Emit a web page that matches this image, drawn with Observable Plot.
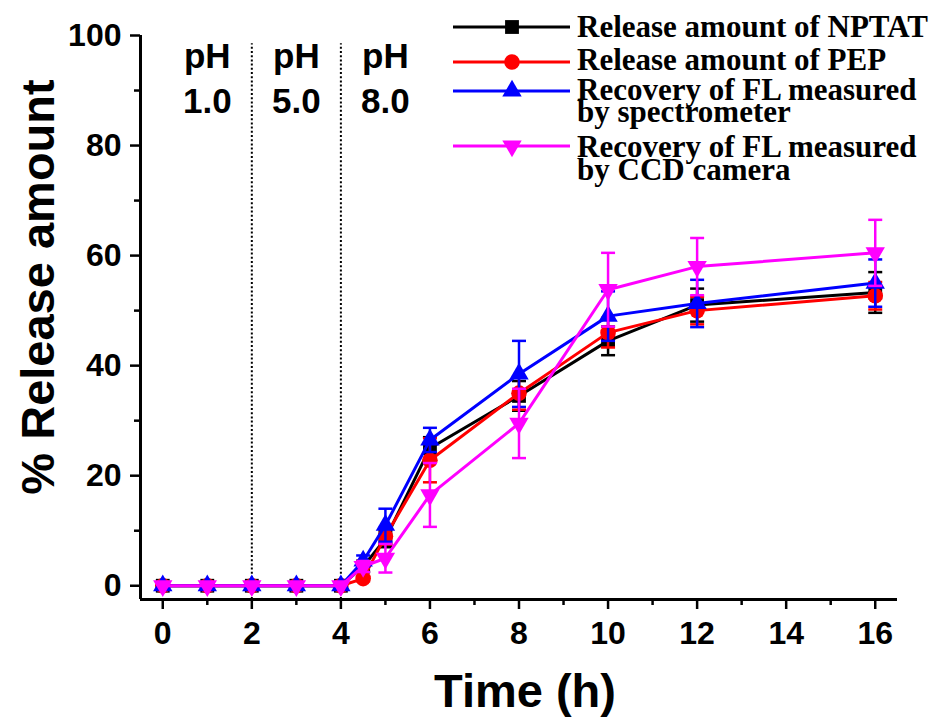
<!DOCTYPE html>
<html>
<head>
<meta charset="utf-8">
<script src="https://cdn.jsdelivr.net/npm/d3@7"></script>
<script src="https://cdn.jsdelivr.net/npm/@observablehq/plot@0.6"></script>
<style>
  html, body { margin: 0; padding: 0; background: white; }
  #chart { position: relative; width: 937px; height: 718px; }
  #chart svg { display: block; }
  #legend { position: absolute; left: 0; top: 0; pointer-events: none; }
</style>
</head>
<body>
<div id="chart"></div>
<script>
// ---------- data ----------
const times = [0, 1, 2, 3, 4, 4.5, 5, 6, 8, 10, 12, 16];
const nptat     = [0, 0, 0, 0, 0, 3.5, 8.5, 25.0, 34.5, 44.5, 51.0, 53.3];
const nptatErr  = [0, 0, 0, 0, 0, 1.0, 1.5, 2.0, 2.7, 2.6, 3.0, 3.7];
const pep       = [0, 0, 0, 0, 0, 1.3, 9.0, 22.8, 35.0, 46.0, 50.0, 52.7];
const pepErr    = [0, 0, 0, 0, 0, 0.5, 1.5, 4.0, 3.0, 2.7, 2.5, 2.5];
const flSpec    = [0, 0, 0, 0, 0, 4.5, 11.0, 26.5, 38.5, 49.0, 51.3, 55.0];
const flSpecErr = [0, 0, 0, 0, 0, 1.0, 3.0, 2.2, 6.0, 4.5, 4.3, 4.3];
const flCcd     = [0, 0, 0, 0, 0, 3.5, 5.0, 16.5, 29.5, 53.8, 58.0, 60.5];
const flCcdErr  = [0, 0, 0, 0, 0, 1.0, 2.6, 5.8, 6.3, 6.7, 5.2, 6.0];

const seriesNames = [
  "Release amount of NPTAT",
  "Release amount of PEP",
  "Recovery of FL measured\nby spectrometer",
  "Recovery of FL measured\nby CCD camera"
];
const phaseBounds = [2, 4];
const phaseCenters = [1, 3, 5];
const phaseLabels = ["pH\n1.0", "pH\n5.0", "pH\n8.0"];
const xTicks = [0, 2, 4, 6, 8, 10, 12, 14, 16];
const xMinorTicks = [1, 3, 5, 7, 9, 11, 13, 15];
const yTicks = [0, 20, 40, 60, 80, 100];
const yMinorTicks = [10, 30, 50, 70, 90];
const xDomain = [-0.5, 16.5];
const yDomain = [-2.5, 100];
const boundaryTop = 98.5;
const xLabel = "Time (h)";
const yLabel = "% Release amount";

// ---------- styles ----------
const triangleDown = {
  draw(ctx, size) {
    const y = -Math.sqrt(size / (Math.sqrt(3) * 3));
    ctx.moveTo(0, -y * 2);
    ctx.lineTo(-Math.sqrt(3) * y, y);
    ctx.lineTo(Math.sqrt(3) * y, y);
    ctx.closePath();
  }
};
const capSymbol = {
  draw(ctx, size) {
    const r = Math.sqrt(size / Math.PI);
    ctx.moveTo(-r, 0);
    ctx.lineTo(r, 0);
  }
};
const styles = [
  {color: "#000000", symbol: "square", r: 7.8},
  {color: "#ff0000", symbol: "circle", r: 7.8},
  {color: "#0000ff", symbol: "triangle", r: 7.2},
  {color: "#ff00ff", symbol: triangleDown, r: 7.2}
];
const valueSets = [nptat, pep, flSpec, flCcd];
const errorSets = [nptatErr, pepErr, flSpecErr, flCcdErr];

const series = valueSets.map((vals, k) => ({
  name: seriesNames[k],
  ...styles[k],
  rows: times.map((t, i) => ({time: t, value: vals[i], err: errorSets[k][i]}))
}));

// ---------- marks ----------
const marks = [];
marks.push(Plot.ruleY([yDomain[0]], {stroke: "black", strokeWidth: 3}));
marks.push(Plot.ruleX([xDomain[0]], {stroke: "black", strokeWidth: 3}));
marks.push(Plot.ruleX(phaseBounds, {y1: yDomain[0], y2: boundaryTop, stroke: "black", strokeWidth: 2, strokeDasharray: "2,2.2"}));
marks.push(Plot.axisX(xTicks, {tickSize: 10, tickPadding: 12, strokeWidth: 2.5, fontSize: 32, fontWeight: "bold", label: null}));
marks.push(Plot.axisX(xMinorTicks, {tickSize: 6, strokeWidth: 2.5, tickFormat: () => "", label: null}));
marks.push(Plot.axisY(yTicks, {tickSize: 10, tickPadding: 9, strokeWidth: 2.5, fontSize: 32, fontWeight: "bold", label: null}));
marks.push(Plot.axisY(yMinorTicks, {tickSize: 6, strokeWidth: 2.5, tickFormat: () => "", label: null}));
marks.push(Plot.text([xLabel], {frameAnchor: "bottom", dx: 6, dy: 92, fontSize: 47, fontWeight: "bold", lineAnchor: "middle"}));
marks.push(Plot.text(phaseCenters, {x: d => d, text: (d, i) => phaseLabels[i], frameAnchor: "top", lineAnchor: "top", dy: 0, fontSize: 35, fontWeight: "bold", lineHeight: 1.3}));

for (const s of series) {
  const withErr = s.rows.filter(d => d.err > 0);
  marks.push(Plot.ruleX(withErr, {x: "time", y1: d => d.value - d.err, y2: d => d.value + d.err, stroke: s.color, strokeWidth: 2.5}));
  marks.push(Plot.dot(withErr, {x: "time", y: d => d.value - d.err, symbol: capSymbol, r: 7, stroke: s.color, strokeWidth: 2.5, fill: "none"}));
  marks.push(Plot.dot(withErr, {x: "time", y: d => d.value + d.err, symbol: capSymbol, r: 7, stroke: s.color, strokeWidth: 2.5, fill: "none"}));
  marks.push(Plot.line(s.rows, {x: "time", y: "value", stroke: s.color, strokeWidth: 3}));
  marks.push(Plot.dot(s.rows, {x: "time", y: "value", symbol: s.symbol, r: s.r, fill: s.color, stroke: "none"}));
}

const plot = Plot.plot({
  width: 937,
  height: 718,
  marginLeft: 140,
  marginRight: 40,
  marginTop: 35,
  marginBottom: 119,
  style: {fontFamily: "'Liberation Sans', Arial, sans-serif", background: "white", color: "black", overflow: "visible"},
  x: {domain: xDomain, axis: null},
  y: {domain: yDomain, axis: null},
  marks
});
const chart = document.getElementById("chart");
chart.appendChild(plot);

// ---------- overlay: y title + legend ----------
const lg = d3.select(chart).append("svg")
  .attr("id", "legend").attr("width", 937).attr("height", 718);

lg.append("text")
  .attr("transform", "translate(54,287) rotate(-90)")
  .attr("text-anchor", "middle")
  .attr("font-family", "'Liberation Sans', Arial, sans-serif")
  .attr("font-weight", "bold").attr("font-size", 47).attr("fill", "black")
  .text(yLabel);

const legendLayout = [
  {lineY: 27, baselines: [37]},
  {lineY: 62, baselines: [70]},
  {lineY: 91, baselines: [100, 122]},
  {lineY: 146, baselines: [157, 180]}
];
series.forEach((s, k) => {
  const L = legendLayout[k];
  const g = lg.append("g");
  g.append("line").attr("x1", 453).attr("x2", 570).attr("y1", L.lineY).attr("y2", L.lineY)
    .attr("stroke", s.color).attr("stroke-width", 3);
  const type = typeof s.symbol === "string"
    ? {square: d3.symbolSquare, circle: d3.symbolCircle, triangle: d3.symbolTriangle}[s.symbol]
    : s.symbol;
  g.append("path").attr("d", d3.symbol(type, s.r * s.r * Math.PI)())
    .attr("transform", `translate(512,${L.lineY})`).attr("fill", s.color);
  s.name.split("\n").forEach((line, j) => {
    g.append("text").attr("x", 577).attr("y", L.baselines[j])
      .attr("font-family", "'Liberation Serif', 'Times New Roman', serif")
      .attr("font-weight", "bold").attr("font-size", 31).attr("fill", "black")
      .text(line);
  });
});
</script>
</body>
</html>
